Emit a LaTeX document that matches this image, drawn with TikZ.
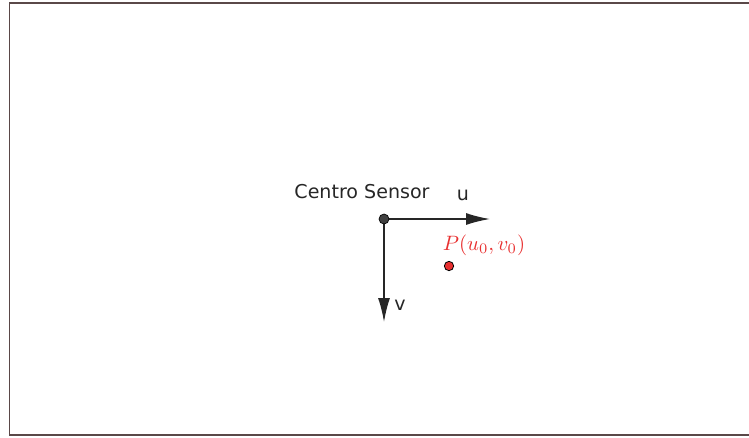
\documentclass[tikz,border=0pt]{standalone}
\usepackage{fontspec}
\setsansfont{DejaVu Sans}
\usetikzlibrary{arrows.meta}
\definecolor{framec}{HTML}{5A4848}
\definecolor{ptred}{HTML}{E83030}
\tikzset{
  axis/.style={draw=black!85, line width=1.1pt, -{Latex[length=18pt,width=9pt]}},
  lbl/.style={font=\sffamily\fontsize{14.3pt}{16pt}\selectfont, text=black!85, inner sep=0pt},
}
\begin{document}
\begin{tikzpicture}[x=0.75pt,y=-0.75pt]
\useasboundingbox (0,0) rectangle (749,437);
\draw[framec, line width=1.2pt] (750,3) -- (9.5,3) -- (9.5,435) -- (750,435);
\coordinate (o) at (384,219);
\coordinate (ue) at (490,219);
\coordinate (ve) at (384,322);
\draw[axis] (o) -- (ue);
\draw[axis] (o) -- (ve);
\node[circle, fill=black!75, draw=black, line width=0.5pt, minimum size=7.5pt, inner sep=0pt] (c) at (o) {};
\node[lbl] (cs) at (362,192) {Centro Sensor};
\node[lbl] (ul) at (463,195) {u};
\node[lbl] (vl) at (400,305) {v};
\node[circle, fill=ptred, draw=black, line width=0.6pt, minimum size=7pt, inner sep=0pt] (p) at (449,266) {};
\node[text=ptred, inner sep=0pt] (pl) at (484,245) {\scalebox{1.56}{$P(u_0,v_0)$}};
\end{tikzpicture}
\end{document}
